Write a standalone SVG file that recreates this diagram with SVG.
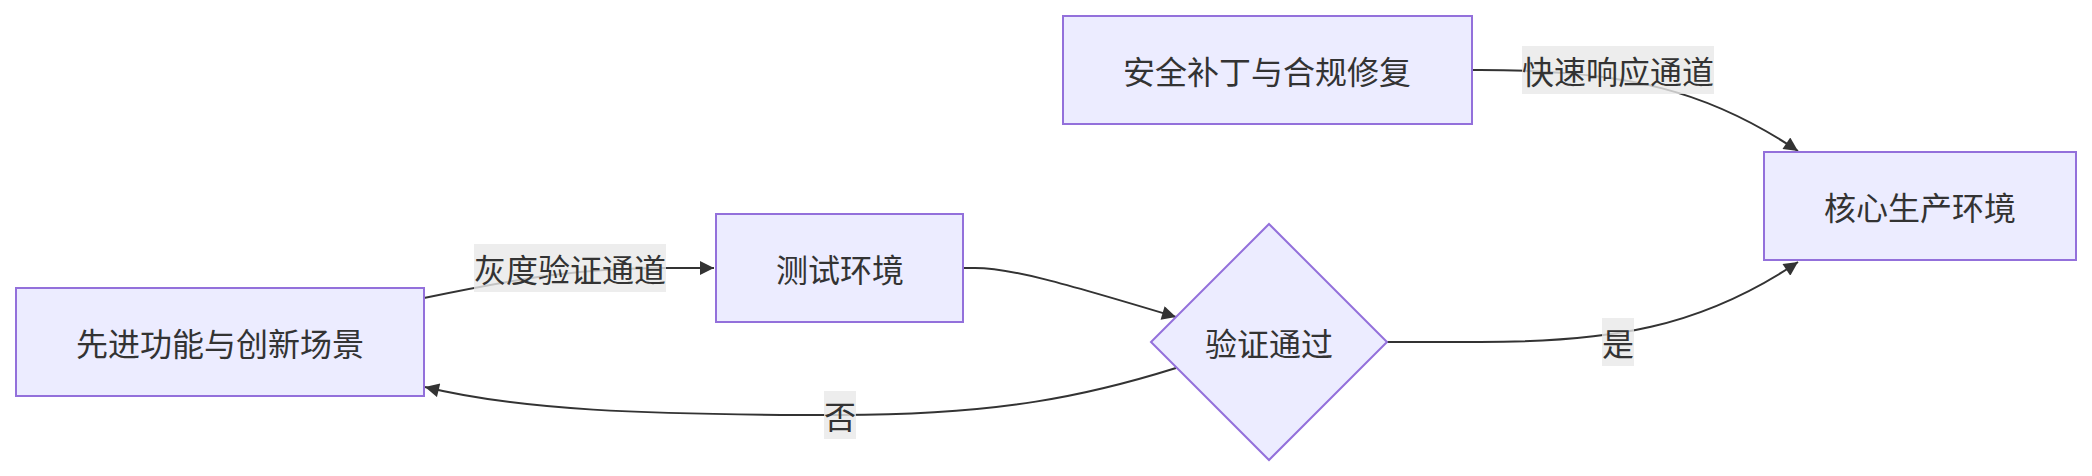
<svg xmlns="http://www.w3.org/2000/svg" width="2092" height="476" viewBox="0 0 2092 476">
<style>
.node rect,.node polygon{fill:#ECECFF;stroke:#9370DB;stroke-width:2}
text{font-family:"Noto Sans CJK SC","Liberation Sans",sans-serif;font-size:32px;fill:#333;text-anchor:middle;dominant-baseline:central}
.edge{fill:none;stroke:#333;stroke-width:2}
.lbl{fill:#e8e8e8;fill-opacity:0.8}
</style>
<defs>
<marker id="arr" viewBox="0 0 10 10" refX="10" refY="5" markerUnits="userSpaceOnUse" markerWidth="16" markerHeight="14" orient="auto">
<path d="M0,0 L10,5 L0,10 z" fill="#333"/>
</marker>
</defs>
<rect width="2092" height="476" fill="#fff"/>
<g id="connectors">
<path class="edge" d="M424,298 C520,278 580,268 666,268 L714,268" marker-end="url(#arr)"/>
<path class="edge" d="M963,268 L975,268 C1010,268 1060,282 1176,317" marker-end="url(#arr)"/>
<path class="edge" d="M1176,368 C1090,395 1000,415 840,415 C640,415 520,410 425,387" marker-end="url(#arr)"/>
<path class="edge" d="M1387,342 L1480,342 C1610,342 1700,328 1798,262" marker-end="url(#arr)"/>
<path class="edge" d="M1472,70 L1480,70 C1630,70 1710,92 1798,151" marker-end="url(#arr)"/>
<rect class="lbl" x="474" y="244" width="192" height="48"/>
<text x="570" y="268">灰度验证通道</text>
<rect class="lbl" x="824" y="391" width="32" height="48"/>
<text x="840" y="415">否</text>
<rect class="lbl" x="1602" y="318" width="32" height="48"/>
<text x="1618" y="342">是</text>
<rect class="lbl" x="1522" y="46" width="192" height="48"/>
<text x="1618" y="70">快速响应通道</text>
</g>
<g id="node-advanced" class="node">
<rect x="16" y="288" width="408" height="108"/>
<text x="220" y="342">先进功能与创新场景</text>
</g>
<g id="node-test" class="node">
<rect x="716" y="214" width="247" height="108"/>
<text x="840" y="268">测试环境</text>
</g>
<g id="node-verify" class="node">
<polygon points="1269,224 1387,342 1269,460 1151,342"/>
<text x="1269" y="342">验证通过</text>
</g>
<g id="node-security" class="node">
<rect x="1063" y="16" width="409" height="108"/>
<text x="1267" y="70">安全补丁与合规修复</text>
</g>
<g id="node-prod" class="node">
<rect x="1764" y="152" width="312" height="108"/>
<text x="1920" y="206">核心生产环境</text>
</g>
</svg>
